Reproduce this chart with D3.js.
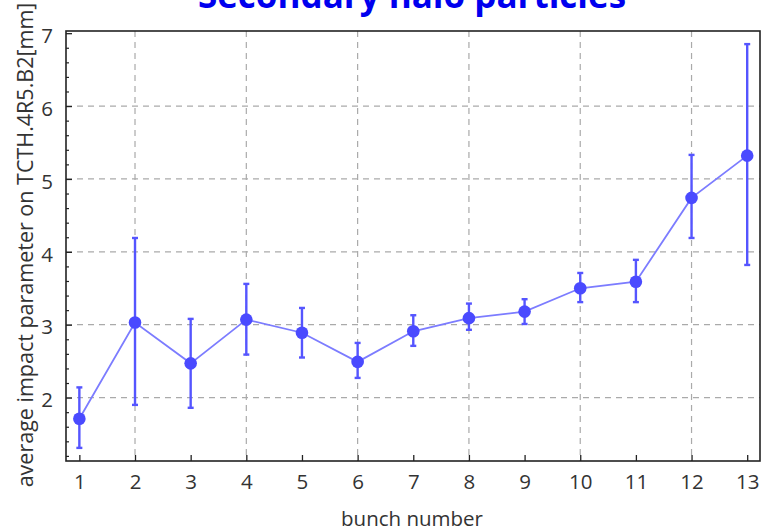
<!DOCTYPE html>
<html>
<head>
<meta charset="utf-8">
<script src="https://cdn.jsdelivr.net/npm/d3@7"></script>
<style>
  html, body { margin: 0; padding: 0; background: #fff; }
  svg { display: block; }
</style>
</head>
<body>
<svg id="chart" width="770" height="530"></svg>
<script>
// ---- data ----
const bunches = [1, 2, 3, 4, 5, 6, 7, 8, 9, 10, 11, 12, 13];
const means   = [1.71, 3.03, 2.47, 3.07, 2.89, 2.49, 2.91, 3.09, 3.18, 3.50, 3.59, 4.74, 5.32];
const upper   = [2.14, 4.19, 3.08, 3.56, 3.23, 2.75, 3.13, 3.29, 3.35, 3.71, 3.89, 5.33, 6.85];
const lower   = [1.31, 1.90, 1.86, 2.59, 2.55, 2.27, 2.71, 2.93, 3.01, 3.31, 3.31, 4.19, 3.82];
const xTickValues = [1, 2, 3, 4, 5, 6, 7, 8, 9, 10, 11, 12, 13];
const xGridValues = [2, 4, 6, 8, 10, 12];
const yTickValues = [2, 3, 4, 5, 6, 7];
const titleText = "Secondary halo particles";
const xLabelText = "bunch number";
const yLabelText = "average impact parameter on TCTH.4R5.B2[mm]";

// ---- layout ----
const L = 66, R = 760, T = 31, B = 461;
const svg = d3.select("#chart");
const font = "'Open Sans', 'Noto Sans', sans-serif";

const x = d3.scaleLinear().domain([0.76, 13.23]).range([L, R]);
const y = d3.scaleLinear().domain([1.13, 7.03]).range([B, T]);

// grid
const grid = svg.append("g").attr("stroke", "#aaaaaa").attr("stroke-width", 1.2)
  .attr("stroke-dasharray", "6,5");
grid.selectAll("line.h").data(yTickValues.filter(v => v < 7)).join("line")
  .attr("x1", L).attr("x2", R).attr("y1", d => y(d)).attr("y2", d => y(d));
grid.selectAll("line.v").data(xGridValues).join("line")
  .attr("y1", T).attr("y2", B).attr("x1", d => x(d)).attr("x2", d => x(d));

// axes (ticks pointing inward)
const xAxis = d3.axisBottom(x).tickValues(xTickValues).tickSizeInner(-6).tickSizeOuter(0)
  .tickPadding(13).tickFormat(d3.format("d"));
const gx = svg.append("g").attr("transform", `translate(0,${B})`).call(xAxis);
gx.select(".domain").remove();
gx.selectAll(".tick line").attr("stroke", "#222").attr("stroke-width", 1.3);
gx.selectAll(".tick text").attr("font-family", font).attr("font-size", 20.5).attr("fill", "#333");

const yMinor = d3.range(12, 70, 2).map(v => v / 10).filter(v => !yTickValues.includes(v));
const gyMinor = svg.append("g").attr("transform", `translate(${L},0)`)
  .call(d3.axisLeft(y).tickValues(yMinor).tickSizeInner(-3).tickSizeOuter(0).tickFormat(""));
gyMinor.select(".domain").remove();
gyMinor.selectAll(".tick line").attr("stroke", "#222").attr("stroke-width", 1.2);

const yAxis = d3.axisLeft(y).tickValues(yTickValues).tickSizeInner(-6).tickSizeOuter(0)
  .tickPadding(13).tickFormat(d3.format("d"));
const gy = svg.append("g").attr("transform", `translate(${L},0)`).call(yAxis);
gy.select(".domain").remove();
gy.selectAll(".tick line").attr("stroke", "#222").attr("stroke-width", 1.3);
gy.selectAll(".tick text").attr("font-family", font).attr("font-size", 20.5).attr("fill", "#333")
  .attr("dy", "0.45em");

// frame
svg.append("rect").attr("x", L).attr("y", T).attr("width", R - L).attr("height", B - T)
  .attr("fill", "none").attr("stroke", "#222").attr("stroke-width", 1.6);

// data
const pts = bunches.map((b, i) => ({ b, m: means[i], u: upper[i], l: lower[i] }));
const blue = "#5555ff";

svg.append("path").datum(pts)
  .attr("fill", "none").attr("stroke", "#7c7cff").attr("stroke-width", 1.8)
  .attr("d", d3.line().x(d => x(d.b)).y(d => y(d.m)));

const eb = svg.append("g").attr("stroke", blue).attr("stroke-width", 2.4).attr("fill", "none");
eb.selectAll("line.bar").data(pts).join("line").attr("class", "bar")
  .attr("x1", d => x(d.b)).attr("x2", d => x(d.b)).attr("y1", d => y(d.u)).attr("y2", d => y(d.l));
eb.selectAll("line.cu").data(pts).join("line").attr("class", "cu")
  .attr("x1", d => x(d.b) - 3).attr("x2", d => x(d.b) + 3).attr("y1", d => y(d.u)).attr("y2", d => y(d.u));
eb.selectAll("line.cl").data(pts).join("line").attr("class", "cl")
  .attr("x1", d => x(d.b) - 3).attr("x2", d => x(d.b) + 3).attr("y1", d => y(d.l)).attr("y2", d => y(d.l));

svg.append("g").selectAll("circle").data(pts).join("circle")
  .attr("cx", d => x(d.b)).attr("cy", d => y(d.m)).attr("r", 6.3).attr("fill", "#4a4aff");

// labels
svg.append("text").attr("x", 412).attr("y", 8).attr("text-anchor", "middle")
  .attr("font-family", font).attr("font-weight", "bold").attr("font-size", 35).attr("fill", "#0000ee")
  .text(titleText);

svg.append("text").attr("x", 412).attr("y", 526).attr("text-anchor", "middle")
  .attr("font-family", font).attr("font-size", 20.5).attr("fill", "#333").text(xLabelText);

svg.append("text").attr("transform", "translate(33,245) rotate(-90)").attr("text-anchor", "middle")
  .attr("font-family", font).attr("font-size", 21.5).attr("fill", "#333").text(yLabelText);
</script>
</body>
</html>
